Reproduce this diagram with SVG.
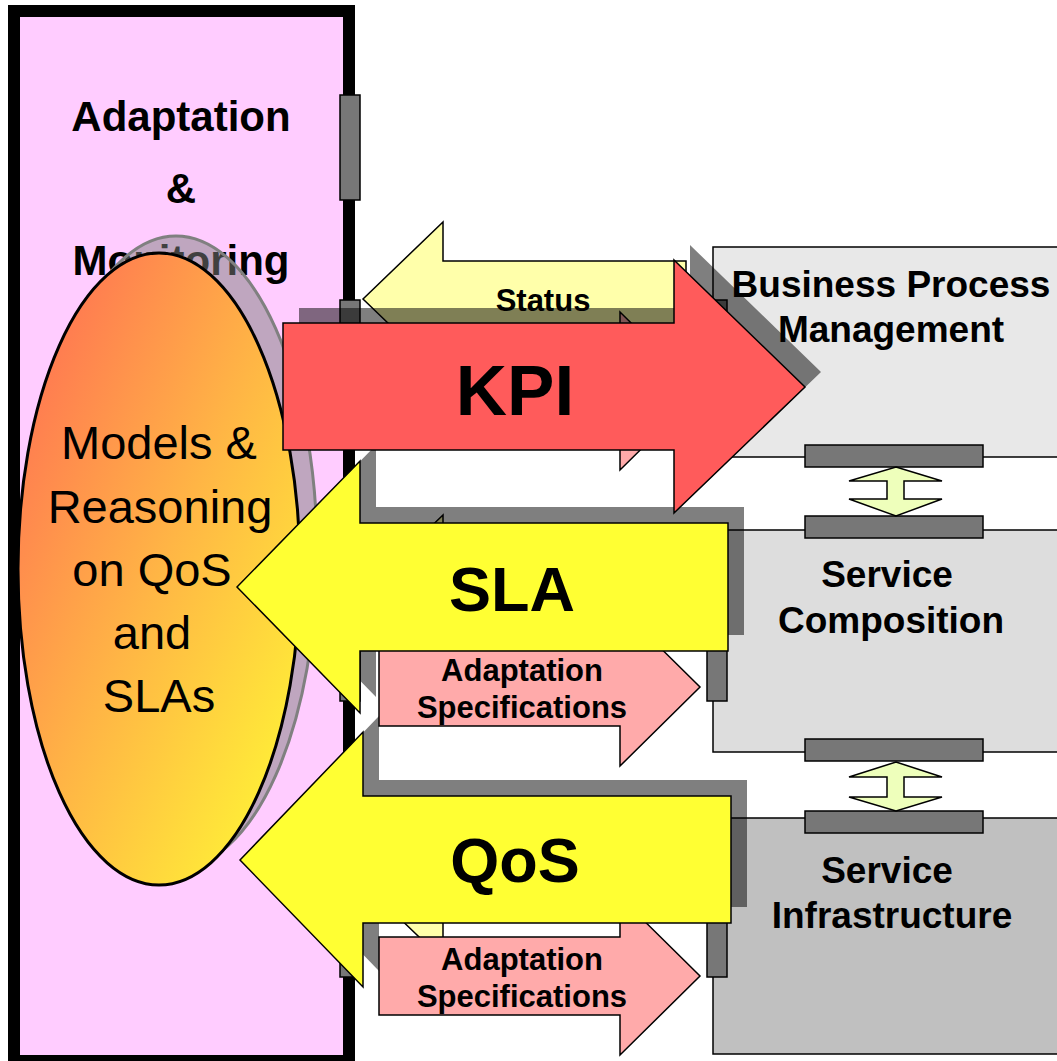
<svg xmlns="http://www.w3.org/2000/svg" width="1057" height="1061" viewBox="0 0 1057 1061">
  <style>
    text { font-family: "Liberation Sans", Arial, sans-serif; text-anchor: middle; fill: #000; }
    .b { font-weight: bold; }
    .tab { fill: #777777; stroke: #000; stroke-width: 1.5; }
    .box { stroke: #000; stroke-width: 1.5; }
    .edge { stroke: #000; stroke-width: 1.5; stroke-linejoin: miter; }
    .shadow { fill: #000; fill-opacity: 0.5; stroke: none; }
    .big { fill: #FFFF33; }
    .status { fill: #FFFFAA; }
    .spec { fill: #FFAAAA; }
    .lift { fill: #EEFFBB; stroke: #000; stroke-width: 1.5; }
  </style>
  <defs>
    <linearGradient id="warm" x1="0" y1="0" x2="1" y2="1">
      <stop offset="0" stop-color="#FF6655"/>
      <stop offset="0.5" stop-color="#FFB545"/>
      <stop offset="1" stop-color="#FFFF33"/>
    </linearGradient>
    <path id="statusShape" d="M363,299 L443,222 L443,261 L686,261 L686,337 L443,337 L443,376 Z"/>
    <path id="specShape" d="M379,352 L620,352 L620,312 L700,391 L620,470 L620,430 L379,430 Z"/>
  </defs>

  <!-- Adaptation & Monitoring panel -->
  <g id="panel">
    <rect x="14" y="11" width="335" height="1050" fill="#FFCCFF" stroke="#000" stroke-width="12"/>
    <text class="b" x="181" y="131" font-size="42">Adaptation</text>
    <text class="b" x="181" y="203" font-size="42">&amp;</text>
    <text class="b" x="181" y="275" font-size="42">Monitoring</text>
    <rect class="tab" x="340" y="95" width="20" height="105"/>
    <rect class="tab" x="340" y="300" width="20" height="105"/>
    <rect class="tab" x="340" y="596" width="20" height="105"/>
    <rect class="tab" x="340" y="872" width="20" height="105"/>
  </g>

  <!-- Models & Reasoning ellipse -->
  <g id="reasoning">
    <ellipse cx="176" cy="552" rx="141" ry="316" fill="#808080" fill-opacity="0.5" stroke="#808080" stroke-width="3"/>
    <ellipse cx="159" cy="569" rx="141" ry="316" fill="url(#warm)" stroke="#000" stroke-width="3"/>
    <text x="159" y="459" font-size="47">Models &amp;</text>
    <text x="160" y="523" font-size="47">Reasoning</text>
    <text x="152" y="586" font-size="47">on QoS</text>
    <text x="152" y="649" font-size="47">and</text>
    <text x="159" y="712" font-size="47">SLAs</text>
  </g>

  <!-- Layer boxes -->
  <g id="bpm">
    <rect class="box" x="713" y="247" width="360" height="210" fill="#E8E8E8"/>
    <rect class="tab" x="707" y="300" width="20" height="105"/>
    <rect class="tab" x="805" y="445" width="178" height="22"/>
    <text class="b" x="891" y="297" font-size="37">Business Process</text>
    <text class="b" x="891" y="342" font-size="37">Management</text>
  </g>
  <g id="composition">
    <rect class="box" x="713" y="530" width="360" height="222" fill="#DDDDDD"/>
    <rect class="tab" x="707" y="596" width="20" height="105"/>
    <rect class="tab" x="805" y="516" width="178" height="22"/>
    <rect class="tab" x="805" y="739" width="178" height="22"/>
    <text class="b" x="887" y="587" font-size="37">Service</text>
    <text class="b" x="891" y="633" font-size="37">Composition</text>
  </g>
  <g id="infrastructure">
    <rect class="box" x="713" y="818" width="360" height="236" fill="#C0C0C0"/>
    <rect class="tab" x="707" y="872" width="20" height="105"/>
    <rect class="tab" x="805" y="811" width="178" height="22"/>
    <text class="b" x="887" y="883" font-size="37">Service</text>
    <text class="b" x="892" y="928" font-size="37">Infrastructure</text>
  </g>

  <!-- Flows between the panel and the layers -->
  <g id="connectors">
    <!-- layer-to-layer links -->
    <path class="lift" d="M896,467 L942,481 L904,481 L904,499 L942,499 L896,516 L849,499 L887,499 L887,481 L849,481 Z"/>
    <path class="lift" d="M896,762 L942,777 L904,777 L904,797 L942,797 L896,811 L849,797 L887,797 L887,777 L849,777 Z"/>

    <!-- status feedback, one per layer -->
    <use href="#statusShape" class="status edge"/>
    <use href="#statusShape" class="status edge" transform="translate(0,293)"/>
    <use href="#statusShape" class="status edge" transform="translate(0,584)"/>
    <text class="b" x="543" y="311" font-size="31">Status</text>

    <!-- adaptation specifications, one per layer -->
    <use href="#specShape" class="spec edge"/>
    <use href="#specShape" class="spec edge" transform="translate(0,296)"/>
    <use href="#specShape" class="spec edge" transform="translate(0,585)"/>
    <text class="b" x="522" y="681" font-size="31">Adaptation</text>
    <text class="b" x="522" y="718" font-size="31">Specifications</text>
    <text class="b" x="522" y="970" font-size="31">Adaptation</text>
    <text class="b" x="522" y="1007" font-size="31">Specifications</text>

    <!-- QoS -->
    <path class="shadow" transform="translate(16,-16)" d="M240,860 L363,732 L363,796 L731,796 L731,923 L363,923 L363,987 Z"/>
    <path class="big edge" d="M240,860 L363,732 L363,796 L731,796 L731,923 L363,923 L363,987 Z"/>
    <text class="b" x="515" y="882" font-size="63">QoS</text>

    <!-- SLA -->
    <path class="shadow" transform="translate(16,-16)" d="M237,587 L360,461 L360,523 L728,523 L728,651 L360,651 L360,713 Z"/>
    <path class="big edge" d="M237,587 L360,461 L360,523 L728,523 L728,651 L360,651 L360,713 Z"/>
    <text class="b" x="512" y="611" font-size="63">SLA</text>

    <!-- KPI -->
    <path class="shadow" transform="translate(16,-15)" d="M283,323 L674,323 L674,260 L805,387 L674,513 L674,450 L283,450 Z"/>
    <path class="edge" fill="#FF5B5B" d="M283,323 L674,323 L674,260 L805,387 L674,513 L674,450 L283,450 Z"/>
    <text class="b" x="515" y="415" font-size="71">KPI</text>
  </g>
</svg>
